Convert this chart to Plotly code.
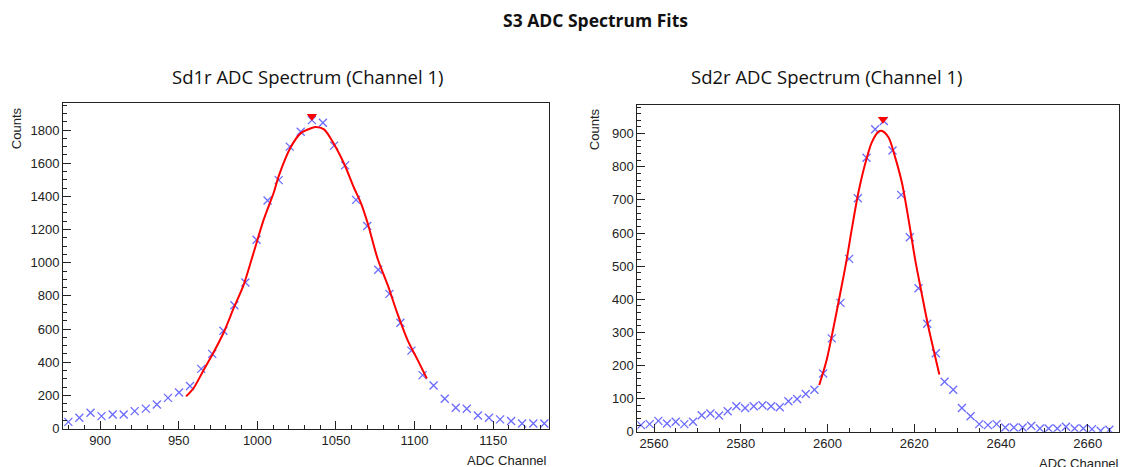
import plotly.graph_objects as go

# ---------------- data ----------------
sd1_x = [879.8, 886.8, 893.9, 900.9, 908.0, 915.0, 922.0, 929.1, 936.1, 943.2,
         950.2, 957.2, 964.3, 971.3, 978.4, 985.4, 992.4, 999.5, 1006.5, 1013.6,
         1020.6, 1027.6, 1034.7, 1041.7, 1048.8, 1055.8, 1062.8, 1069.9, 1076.9, 1084.0,
         1091.0, 1098.0, 1105.1, 1112.1, 1119.2, 1126.2, 1133.2, 1140.3, 1147.3, 1154.4,
         1161.4, 1168.4, 1175.5, 1182.5]
sd1_counts = [40, 65, 95, 75, 85, 85, 105, 120, 145, 185,
              217, 257, 360, 450, 590, 743, 881, 1138, 1375, 1498,
              1700, 1790, 1860, 1844, 1706, 1587, 1379, 1221, 958, 812,
              638, 470, 322, 259, 180, 125, 119, 79, 65, 55,
              45, 30, 30, 30]

sd1_fit_x = [954.7, 959.4, 965.8, 972.2, 978.6, 985.0, 991.3, 997.7, 1004.1, 1010.5,
             1013.7, 1021.2, 1027.5, 1035.0, 1037.1, 1042.4, 1048.8, 1055.2, 1061.6, 1065.9,
             1070.1, 1076.5, 1082.9, 1089.3, 1095.7, 1102.1, 1107.8]
sd1_fit_y = [194, 243, 352, 460, 579, 727, 866, 1063, 1261, 1425,
             1525, 1696, 1780, 1814, 1818, 1804, 1715, 1597, 1449, 1360,
             1241, 1024, 866, 688, 530, 411, 302]
sd1_peak_x = [1034.7]
sd1_peak_y = [1883]

sd2_x = [2557, 2559, 2561, 2563, 2565, 2567, 2569, 2571, 2573, 2575,
         2577, 2579, 2581, 2583, 2585, 2587, 2589, 2591, 2593, 2595,
         2597, 2599, 2601, 2603, 2605, 2607, 2609, 2611, 2613, 2615,
         2617, 2619, 2621, 2623, 2625, 2627, 2629, 2631, 2633, 2635,
         2637, 2639, 2641, 2643, 2645, 2647, 2649, 2651, 2653, 2655,
         2657, 2659, 2661, 2663, 2665]
sd2_counts = [20, 23, 33, 25, 30, 23, 30, 50, 55, 49,
              62, 77, 72, 77, 80, 77, 74, 92, 99, 114,
              127, 176, 282, 389, 522, 705, 827, 913, 938, 849,
              715, 587, 433, 326, 237, 151, 127, 72, 47, 23,
              20, 23, 13, 13, 13, 18, 10, 10, 10, 15,
              10, 10, 8, 3, 6]

sd2_fit_x = [2598.1, 2599.8, 2601.4, 2602.9, 2604.3, 2605.6, 2607.1, 2608.7, 2610.2, 2611.8,
             2612.6, 2614.1, 2615.6, 2617.2, 2618.7, 2620.2, 2621.8, 2623.3, 2624.7, 2625.8]
sd2_fit_y = [141, 216, 315, 415, 510, 611, 720, 809, 873, 906,
             908, 888, 829, 750, 641, 522, 413, 315, 235, 173]
sd2_peak_x = [2612.8]
sd2_peak_y = [943]

main_title = "S3 ADC Spectrum Fits"
sub_titles = ["Sd1r ADC Spectrum (Channel 1)", "Sd2r ADC Spectrum (Channel 1)"]
x_title = "ADC Channel"
y_title = "Counts"

# ---------------- styling ----------------
W, H = 1123, 467
MARKER_COLOR = "#6b6bff"
FIT_COLOR = "#ff0000"
TITLE_FONT = "Open Sans"
AXIS_FONT = "Liberation Sans"


def px(xp):
    return xp / W


def py(yp):
    return 1 - yp / H


fig = go.Figure()

panels = [
    dict(x=sd1_x, y=sd1_counts, fx=sd1_fit_x, fy=sd1_fit_y, pkx=sd1_peak_x, pky=sd1_peak_y,
         xa="x", ya="y"),
    dict(x=sd2_x, y=sd2_counts, fx=sd2_fit_x, fy=sd2_fit_y, pkx=sd2_peak_x, pky=sd2_peak_y,
         xa="x2", ya="y2"),
]

for p in panels:
    fig.add_trace(go.Scatter(
        x=p["x"], y=p["y"], mode="markers", xaxis=p["xa"], yaxis=p["ya"],
        marker=dict(symbol="x-thin", size=8, color=MARKER_COLOR,
                    line=dict(width=1.3, color=MARKER_COLOR)),
        showlegend=False, hoverinfo="x+y"))
    fig.add_trace(go.Scatter(
        x=p["fx"], y=p["fy"], mode="lines", xaxis=p["xa"], yaxis=p["ya"],
        line=dict(color=FIT_COLOR, width=2, shape="spline", smoothing=0.8),
        showlegend=False, hoverinfo="skip"))
    fig.add_trace(go.Scatter(
        x=p["pkx"], y=p["pky"], mode="markers", xaxis=p["xa"], yaxis=p["ya"],
        marker=dict(symbol="triangle-down", size=9, color=FIT_COLOR),
        showlegend=False, hoverinfo="x+y"))

axis_common = dict(
    showline=True, linecolor="#222222", linewidth=1, mirror=True,
    showgrid=False, zeroline=False,
    ticks="inside", ticklen=8, tickcolor="#222222", tickwidth=1,
    tickfont=dict(family=AXIS_FONT, size=13, color="#222222"),
)

fig.update_layout(
    width=W, height=H,
    margin=dict(l=0, r=0, t=0, b=0),
    paper_bgcolor="white", plot_bgcolor="white",
    xaxis=dict(domain=[px(63), px(549)], range=[876.4, 1185.5], anchor="y",
               dtick=50, tick0=900,
               minor=dict(ticks="inside", ticklen=4, dtick=10, tickcolor="#222222"),
               **axis_common),
    yaxis=dict(domain=[py(436), py(105)], range=[0, 1962], anchor="x",
               dtick=200, tick0=0,
               minor=dict(ticks="inside", ticklen=4, dtick=50, tickcolor="#222222"),
               **axis_common),
    xaxis2=dict(domain=[px(637.3), px(1119.3)], range=[2556.15, 2667.3], anchor="y2",
                dtick=20, tick0=2560,
                minor=dict(ticks="inside", ticklen=4, dtick=5, tickcolor="#222222"),
                **axis_common),
    yaxis2=dict(domain=[py(439.3), py(107.3)], range=[0, 985], anchor="x2",
                dtick=100, tick0=0,
                minor=dict(ticks="inside", ticklen=4, dtick=20, tickcolor="#222222"),
                **axis_common),
)

annotations = [
    dict(text="<b>" + main_title + "</b>", x=px(595), y=py(20), xref="paper", yref="paper",
         xanchor="center", yanchor="middle", showarrow=False,
         font=dict(family=TITLE_FONT, size=17.5, color="#111111")),
    dict(text=sub_titles[0], x=px(307), y=py(78), xref="paper", yref="paper",
         xanchor="center", yanchor="middle", showarrow=False,
         font=dict(family=TITLE_FONT, size=18.5, color="#111111")),
    dict(text=sub_titles[1], x=px(826), y=py(78), xref="paper", yref="paper",
         xanchor="center", yanchor="middle", showarrow=False,
         font=dict(family=TITLE_FONT, size=18.5, color="#111111")),
    dict(text=x_title, x=px(549), y=py(469), xref="paper", yref="paper",
         xanchor="right", yanchor="middle", showarrow=False,
         font=dict(family=AXIS_FONT, size=13, color="#222222")),
    dict(text=x_title, x=px(1121), y=py(472), xref="paper", yref="paper",
         xanchor="right", yanchor="middle", showarrow=False,
         font=dict(family=AXIS_FONT, size=13, color="#222222")),
    dict(text=y_title, x=px(16), y=py(107), xref="paper", yref="paper",
         xanchor="center", yanchor="top", textangle=-90, showarrow=False,
         font=dict(family=AXIS_FONT, size=13, color="#222222")),
    dict(text=y_title, x=px(594), y=py(108), xref="paper", yref="paper",
         xanchor="center", yanchor="top", textangle=-90, showarrow=False,
         font=dict(family=AXIS_FONT, size=13, color="#222222")),
]
fig.update_layout(annotations=annotations)

fig.write_html("out.html", config={"displayModeBar": False},
               post_script="document.body.style.margin='0';document.body.style.overflow='hidden';")
